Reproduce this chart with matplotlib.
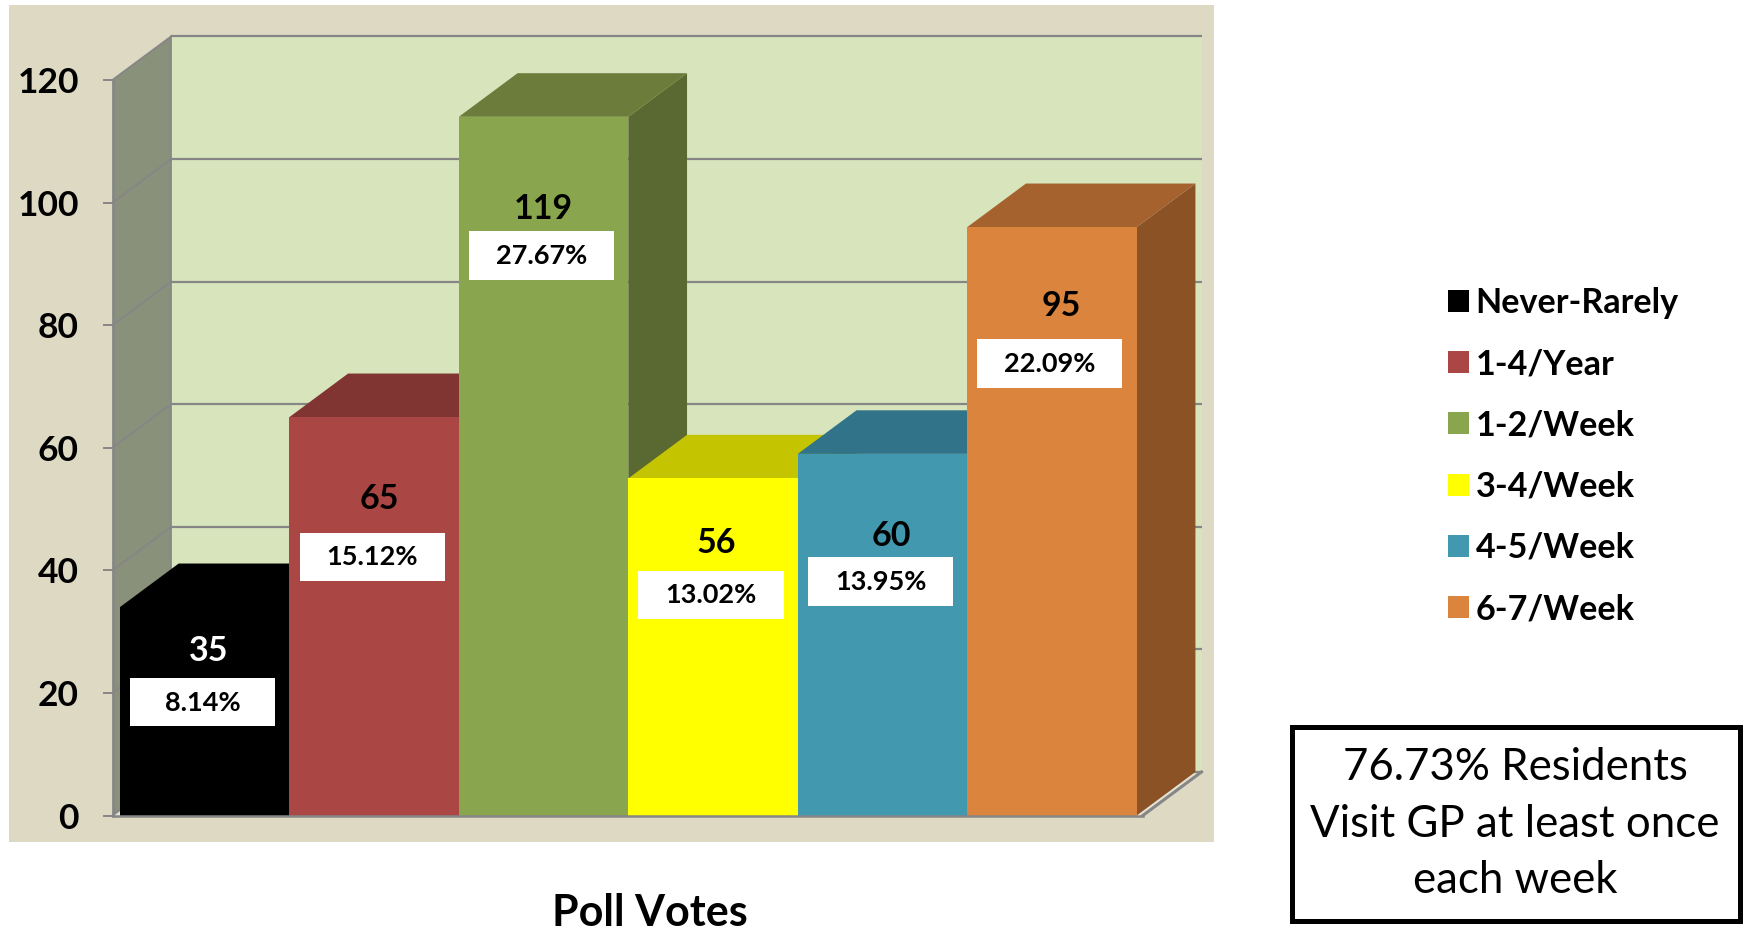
import matplotlib
matplotlib.use("Agg")
import matplotlib.pyplot as plt
from matplotlib.patches import Patch, Rectangle

plt.rcParams["font.family"] = ["Lato", "DejaVu Sans"]

# Data
categories = ["Never-Rarely", "1-4/Year", "1-2/Week", "3-4/Week", "4-5/Week", "6-7/Week"]
bar_heights = [34, 65, 114, 55, 59, 96]  # drawn height
votes = [35, 65, 119, 56, 60, 95]        # printed labels
percents = ["8.14%", "15.12%", "27.67%", "13.02%", "13.95%", "22.09%"]
y_ticks = [0, 20, 40, 60, 80, 100, 120]

# Colours
front_colors = ["#000000", "#AA4643", "#89A54E", "#FFFF00", "#4198AF", "#DB843D"]
top_colors = ["#000000", "#803533", "#6B7C3B", "#C4C400", "#317388", "#A5622E"]
side_colors = ["#000000", "#6E2E2C", "#5A6932", "#A6A600", "#2A6070", "#8B5226"]
vote_colors = ["white", "black", "black", "black", "black", "black"]
grey = "#868686"

# Where the labels sit, relative to the bar centre and on the value axis
vote_dx = [0.025, 0.03, 0.0, 0.02, 0.052, 0.058]
vote_y = [26.8, 51.6, 99.0, 44.5, 45.6, 83.2]
box_y = [18.5, 42.2, 91.4, 36.0, 38.2, 73.7]
box_w, box_h = 0.856, 7.93

W, H = 1747, 930
fig = plt.figure(figsize=(W / 100, H / 100), dpi=100, facecolor="white")
ax = fig.add_axes([112.5 / W, (H - 815.5) / H, 1030.3 / W, 735.5 / H])
ax.set_xlim(-0.544, 5.536)
ax.set_ylim(0, 120)
ax.patch.set_visible(False)

# Beige chart area
fig.patches.append(Rectangle((9 / W, (H - 842) / H), 1205 / W, 837 / H, transform=fig.transFigure,
                             facecolor="#DDD9C3", edgecolor="none", zorder=-1))

# Depth of the fake 3D box, in axis units
dx, dy = 0.3465, 7.11
x0, x1 = ax.get_xlim()

# Walls and floor
ax.fill([x0 + dx, x1 + dx, x1 + dx, x0 + dx], [dy, dy, 120 + dy, 120 + dy], color="#D7E4BC", lw=0, zorder=0.2, clip_on=False)
ax.fill([x0, x0 + dx, x0 + dx, x0], [0, dy, 120 + dy, 120], color="#8A917B", lw=0, zorder=0.2, clip_on=False)
ax.fill([x0, x1, x1 + dx, x0 + dx], [0, 0, dy, dy], color="#E4E2D2", lw=0, zorder=0.2, clip_on=False)

# Grid lines
for v in y_ticks:
    ax.plot([x0 + dx, x1 + dx], [v + dy, v + dy], color=grey, lw=1.6, zorder=0.5, clip_on=False, solid_capstyle="butt")
    ax.plot([x0, x0 + dx], [v, v + dy], color=grey, lw=1.4, zorder=0.5, clip_on=False)
ax.plot([x0 + dx, x0 + dx], [dy, 120 + dy], color=grey, lw=1.2, zorder=0.5, clip_on=False)
ax.plot([x1, x1 + dx], [0, dy], color=grey, lw=2.2, zorder=1.8, clip_on=False)

# Bars, left to right so that each one covers the last
for i, h in enumerate(bar_heights):
    z = 1 + i * 0.1
    left, right = i - 0.5, i + 0.5
    ax.fill([right, right + dx, right + dx, right], [0, dy, h + dy, h], color=side_colors[i], lw=0, zorder=z, clip_on=False)
    ax.fill([left, right, right + dx, left + dx], [h, h, h + dy, h + dy], color=top_colors[i], lw=0, zorder=z, clip_on=False)
    ax.bar(i, h, width=1, color=front_colors[i], linewidth=0, zorder=z + 0.01, clip_on=False)

# Labels on the bars
for i, v in enumerate(votes):
    ax.text(i + vote_dx[i], vote_y[i], str(v), ha="center", va="center", fontsize=24.5, fontweight="bold",
            color=vote_colors[i], zorder=5)
    ax.add_patch(Rectangle((i - 0.012 - box_w / 2, box_y[i] - box_h / 2), box_w, box_h, facecolor="white",
                           edgecolor="none", zorder=4))
    ax.text(i - 0.012, box_y[i] - 0.1, percents[i], ha="center", va="center", fontsize=19.5, fontweight="bold",
            color="black", zorder=5)

# Axes
ax.set_xticks([])
ax.set_yticks(y_ticks)
ax.tick_params(axis="y", length=7.2, width=1.4, color=grey, pad=17, labelsize=25.5)
for lab in ax.get_yticklabels():
    lab.set_fontweight("bold")
for s in ["top", "right"]:
    ax.spines[s].set_visible(False)
for s in ["left", "bottom"]:
    ax.spines[s].set_color(grey)
    ax.spines[s].set_linewidth(1.8)

# Legend
handles = [Patch(facecolor=c, edgecolor="none", label=n) for c, n in zip(front_colors, categories)]
fig.legend(handles=handles, loc="upper left", bbox_to_anchor=(1448 / W, (H - 287) / H), frameon=False,
           prop={"size": 24.6, "weight": "bold"}, labelspacing=0.855, handlelength=0.61, handleheight=0.61,
           handletextpad=0.2, borderpad=0, borderaxespad=0)

# Note box and axis title
fig.patches.append(Rectangle((1291.5 / W, (H - 920.5) / H), 448 / W, 194 / H, transform=fig.transFigure,
                             facecolor="white", edgecolor="black", linewidth=3.6))
fig.text(1515 / W, (H - 824) / H, "76.73% Residents\nVisit GP at least once\neach week", ha="center", va="center",
         fontsize=31.5, color="black", linespacing=1.47)
fig.text(650 / W, (H - 913) / H, "Poll Votes", ha="center", va="center", fontsize=31, fontweight="bold", color="black")

fig.savefig("out.png", dpi=100)
